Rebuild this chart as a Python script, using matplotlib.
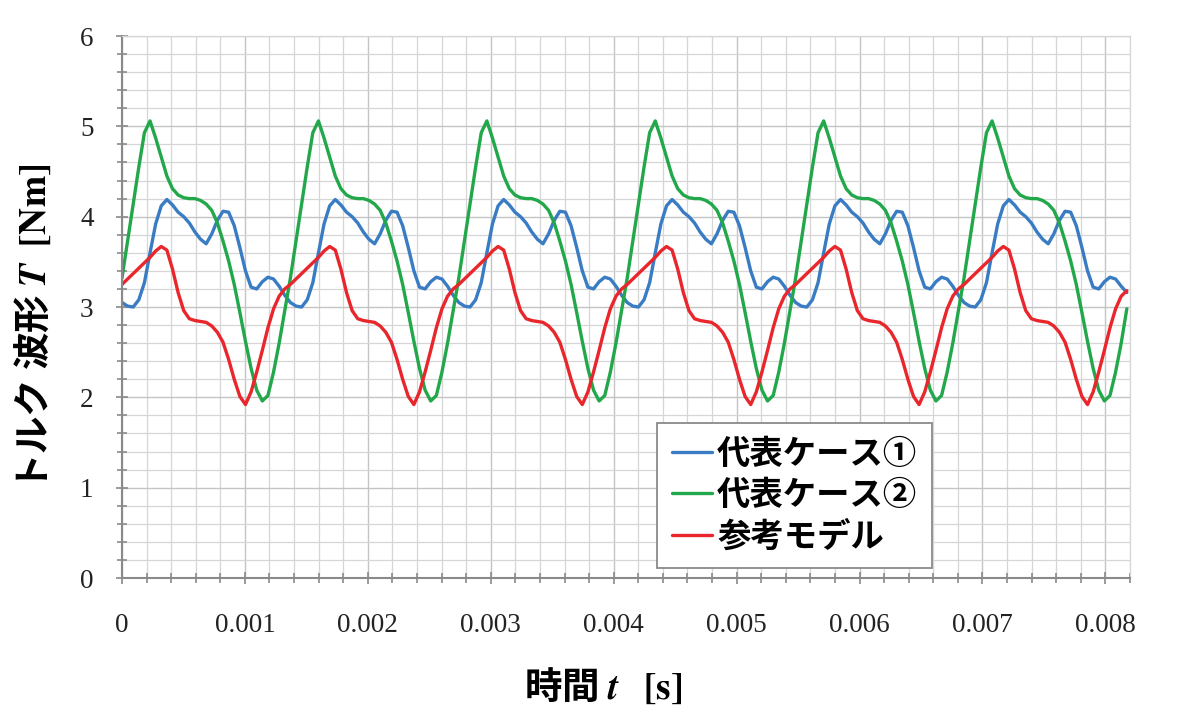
import numpy as np
import matplotlib
matplotlib.use("Agg")
import matplotlib.pyplot as plt
from matplotlib.ticker import MultipleLocator, FixedLocator, FixedFormatter

plt.rcParams['mathtext.fontset'] = 'stix'

# ---------------- data ----------------
series_names = ["代表ケース①", "代表ケース②", "参考モデル"]
x_ticks = [0, 0.001, 0.002, 0.003, 0.004, 0.005, 0.006, 0.007, 0.008]
x_tick_labels = ["0", "0.001", "0.002", "0.003", "0.004", "0.005", "0.006", "0.007", "0.008"]
y_ticks = [0, 1, 2, 3, 4, 5, 6]
y_tick_labels = ["0", "1", "2", "3", "4", "5", "6"]

# sample interval of the read-off points [s]
sample_step_s = 1.37e-3 / 30

case1 = [
    3.05, 3.01, 3.00, 3.08, 3.27, 3.60, 3.92, 4.12, 4.19, 4.13, 4.05, 4.00, 3.93, 3.83, 3.75,
    3.70, 3.81, 3.96, 4.06, 4.05, 3.90, 3.66, 3.40, 3.22, 3.20, 3.28, 3.33, 3.31, 3.23, 3.13,
    3.05, 3.01, 3.00, 3.08, 3.27, 3.60, 3.92, 4.12, 4.19, 4.13, 4.05, 4.00, 3.93, 3.83, 3.75,
    3.70, 3.81, 3.96, 4.06, 4.05, 3.90, 3.66, 3.40, 3.22, 3.20, 3.28, 3.33, 3.31, 3.23, 3.13,
    3.05, 3.01, 3.00, 3.08, 3.27, 3.60, 3.92, 4.12, 4.19, 4.13, 4.05, 4.00, 3.93, 3.83, 3.75,
    3.70, 3.81, 3.96, 4.06, 4.05, 3.90, 3.66, 3.40, 3.22, 3.20, 3.28, 3.33, 3.31, 3.23, 3.13,
    3.05, 3.01, 3.00, 3.08, 3.27, 3.60, 3.92, 4.12, 4.19, 4.13, 4.05, 4.00, 3.93, 3.83, 3.75,
    3.70, 3.81, 3.96, 4.06, 4.05, 3.90, 3.66, 3.40, 3.22, 3.20, 3.28, 3.33, 3.31, 3.23, 3.13,
    3.05, 3.01, 3.00, 3.08, 3.27, 3.60, 3.92, 4.12, 4.19, 4.13, 4.05, 4.00, 3.93, 3.83, 3.75,
    3.70, 3.81, 3.96, 4.06, 4.05, 3.90, 3.66, 3.40, 3.22, 3.20, 3.28, 3.33, 3.31, 3.23, 3.13,
    3.05, 3.01, 3.00, 3.08, 3.27, 3.60, 3.92, 4.12, 4.19, 4.13, 4.05, 4.00, 3.93, 3.83, 3.75,
    3.70, 3.81, 3.96, 4.06, 4.05, 3.90, 3.66, 3.40, 3.22, 3.20, 3.28, 3.33, 3.31, 3.23, 3.16,
]

case2 = [
    3.32, 3.73, 4.14, 4.55, 4.93, 5.06, 4.87, 4.66, 4.45, 4.31, 4.24, 4.21, 4.20, 4.20, 4.18,
    4.14, 4.07, 3.93, 3.73, 3.51, 3.25, 2.94, 2.62, 2.32, 2.08, 1.96, 2.02, 2.28, 2.60, 2.96,
    3.32, 3.73, 4.14, 4.55, 4.93, 5.06, 4.87, 4.66, 4.45, 4.31, 4.24, 4.21, 4.20, 4.20, 4.18,
    4.14, 4.07, 3.93, 3.73, 3.51, 3.25, 2.94, 2.62, 2.32, 2.08, 1.96, 2.02, 2.28, 2.60, 2.96,
    3.32, 3.73, 4.14, 4.55, 4.93, 5.06, 4.87, 4.66, 4.45, 4.31, 4.24, 4.21, 4.20, 4.20, 4.18,
    4.14, 4.07, 3.93, 3.73, 3.51, 3.25, 2.94, 2.62, 2.32, 2.08, 1.96, 2.02, 2.28, 2.60, 2.96,
    3.32, 3.73, 4.14, 4.55, 4.93, 5.06, 4.87, 4.66, 4.45, 4.31, 4.24, 4.21, 4.20, 4.20, 4.18,
    4.14, 4.07, 3.93, 3.73, 3.51, 3.25, 2.94, 2.62, 2.32, 2.08, 1.96, 2.02, 2.28, 2.60, 2.96,
    3.32, 3.73, 4.14, 4.55, 4.93, 5.06, 4.87, 4.66, 4.45, 4.31, 4.24, 4.21, 4.20, 4.20, 4.18,
    4.14, 4.07, 3.93, 3.73, 3.51, 3.25, 2.94, 2.62, 2.32, 2.08, 1.96, 2.02, 2.28, 2.60, 2.96,
    3.32, 3.73, 4.14, 4.55, 4.93, 5.06, 4.87, 4.66, 4.45, 4.31, 4.24, 4.21, 4.20, 4.20, 4.18,
    4.14, 4.07, 3.93, 3.73, 3.51, 3.25, 2.94, 2.62, 2.32, 2.08, 1.96, 2.02, 2.28, 2.60, 2.98,
]

reference = [
    3.25, 3.31, 3.37, 3.43, 3.49, 3.55, 3.62, 3.67, 3.63, 3.42, 3.16, 2.96, 2.87, 2.85, 2.84,
    2.83, 2.79, 2.72, 2.61, 2.42, 2.20, 2.01, 1.92, 2.06, 2.28, 2.52, 2.77, 2.98, 3.12, 3.20,
    3.25, 3.31, 3.37, 3.43, 3.49, 3.55, 3.62, 3.67, 3.63, 3.42, 3.16, 2.96, 2.87, 2.85, 2.84,
    2.83, 2.79, 2.72, 2.61, 2.42, 2.20, 2.01, 1.92, 2.06, 2.28, 2.52, 2.77, 2.98, 3.12, 3.20,
    3.25, 3.31, 3.37, 3.43, 3.49, 3.55, 3.62, 3.67, 3.63, 3.42, 3.16, 2.96, 2.87, 2.85, 2.84,
    2.83, 2.79, 2.72, 2.61, 2.42, 2.20, 2.01, 1.92, 2.06, 2.28, 2.52, 2.77, 2.98, 3.12, 3.20,
    3.25, 3.31, 3.37, 3.43, 3.49, 3.55, 3.62, 3.67, 3.63, 3.42, 3.16, 2.96, 2.87, 2.85, 2.84,
    2.83, 2.79, 2.72, 2.61, 2.42, 2.20, 2.01, 1.92, 2.06, 2.28, 2.52, 2.77, 2.98, 3.12, 3.20,
    3.25, 3.31, 3.37, 3.43, 3.49, 3.55, 3.62, 3.67, 3.63, 3.42, 3.16, 2.96, 2.87, 2.85, 2.84,
    2.83, 2.79, 2.72, 2.61, 2.42, 2.20, 2.01, 1.92, 2.06, 2.28, 2.52, 2.77, 2.98, 3.12, 3.20,
    3.25, 3.31, 3.37, 3.43, 3.49, 3.55, 3.62, 3.67, 3.63, 3.42, 3.16, 2.96, 2.87, 2.85, 2.84,
    2.83, 2.79, 2.72, 2.61, 2.42, 2.20, 2.01, 1.92, 2.06, 2.28, 2.52, 2.77, 2.98, 3.12, 3.18,
]

t = np.arange(len(case1)) * sample_step_s

colors = ["#3a7cc3", "#22a84a", "#e8262b"]

# ---------------- figure ----------------
fig = plt.figure(figsize=(11.97, 7.12), dpi=100)
ax = fig.add_axes([0.1019, 0.1882, 0.8421, 0.7612])

for vals, name, c in zip([case1, case2, reference], series_names, colors):
    ax.plot(t, vals, color=c, lw=2.4, label=name,
            solid_joinstyle='round', solid_capstyle='round')

ax.set_xlim(0, 0.0082)
ax.set_ylim(0, 6)

ax.xaxis.set_major_locator(FixedLocator(x_ticks))
ax.xaxis.set_major_formatter(FixedFormatter(x_tick_labels))
ax.xaxis.set_minor_locator(MultipleLocator(0.0002))
ax.yaxis.set_major_locator(FixedLocator(y_ticks))
ax.yaxis.set_major_formatter(FixedFormatter(y_tick_labels))
ax.yaxis.set_minor_locator(MultipleLocator(0.2))

ax.grid(which='major', color='#c4c4c4', lw=1.0)
ax.grid(which='minor', color='#d6d6d6', lw=0.9)
ax.set_axisbelow(True)

for s in ['top', 'right']:
    ax.spines[s].set_color('#d6d6d6')
    ax.spines[s].set_linewidth(0.9)
for s in ['left', 'bottom']:
    ax.spines[s].set_color('#8a8a8a')
    ax.spines[s].set_linewidth(1.5)

ax.tick_params(which='both', direction='inout', color='#8a8a8a', width=1.2)
ax.tick_params(which='major', length=9)
ax.tick_params(which='minor', length=7)
ax.tick_params(axis='y', which='major', pad=16)
ax.tick_params(axis='x', which='major', pad=21)

for lab in ax.get_xticklabels() + ax.get_yticklabels():
    lab.set_fontfamily('Liberation Serif')
    lab.set_fontsize(19.5)
    lab.set_color('#222222')

jp = ['Noto Sans CJK JP', 'DejaVu Sans']
ax.set_xlabel(r'時間 $\mathbfit{t}$   $\mathbf{[s]}$', family=jp, fontweight='bold',
              fontsize=27, va='center')
ax.xaxis.set_label_coords(0.477, -0.201)
ax.set_ylabel(r'トルク 波形 $\mathbfit{T}$  $\mathbf{[Nm]}$', family=jp, fontweight='bold',
              fontsize=27, va='center', ha='center')
ax.yaxis.set_label_coords(-0.0873, 0.463)

leg = ax.legend(loc='lower left', bbox_to_anchor=(0.531, 0.018),
                prop={'family': jp, 'weight': 'bold', 'size': 24},
                handlelength=1.2, handletextpad=0.15, labelspacing=0.25,
                borderpad=0.45, borderaxespad=0, fancybox=False, framealpha=1,
                edgecolor='#8a8a8a')
leg.get_frame().set_linewidth(1.3)

fig.savefig('out.png', dpi=100)
